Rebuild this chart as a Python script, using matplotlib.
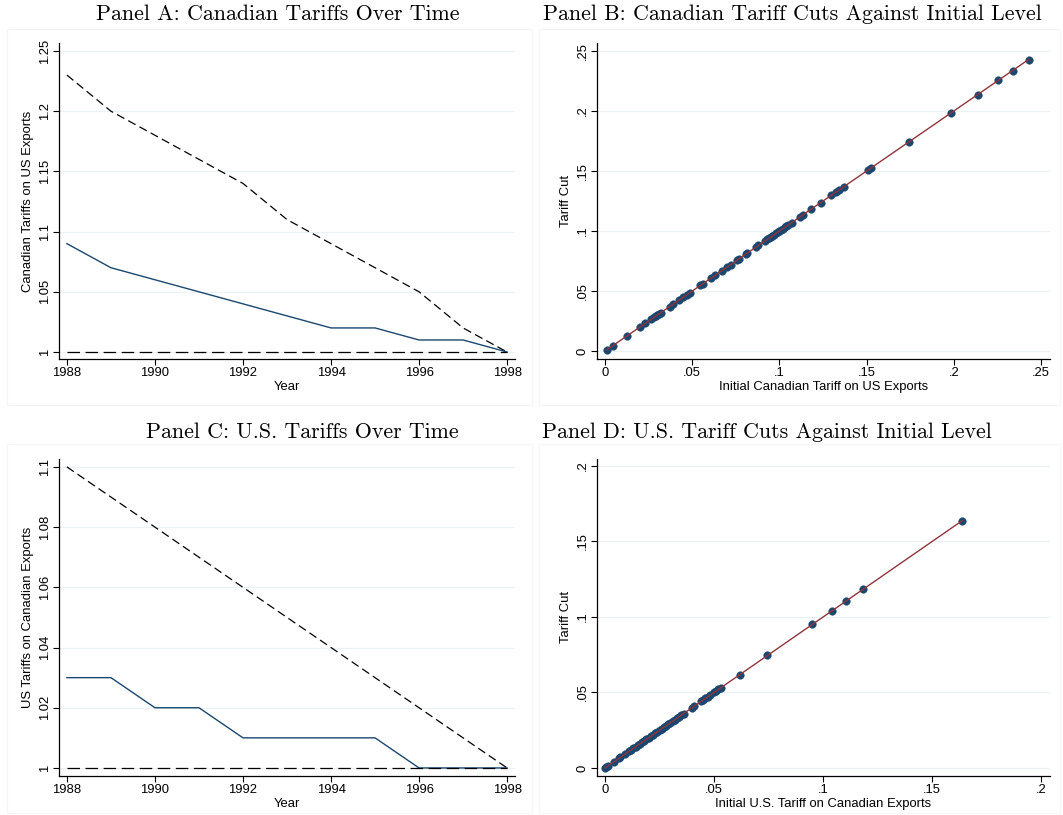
import numpy as np
import matplotlib
matplotlib.use("Agg")
import matplotlib.pyplot as plt
from matplotlib.patches import Rectangle

plt.rcParams['font.family'] = ['Liberation Sans', 'DejaVu Sans']
plt.rcParams['lines.scale_dashes'] = False

NAVY = '#1a476f'
MAROON = '#90353b'
GRID = '#eaf2f3'

# Panel A: Canadian tariffs over time
years = [1988, 1989, 1990, 1991, 1992, 1993, 1994, 1995, 1996, 1997, 1998]
can_max = [1.23, 1.20, 1.18, 1.16, 1.14, 1.11, 1.09, 1.07, 1.05, 1.02, 1.00]
can_mean = [1.09, 1.07, 1.06, 1.05, 1.04, 1.03, 1.02, 1.02, 1.01, 1.01, 1.00]
can_min = [1.00] * 11

# Panel C: U.S. tariffs over time
us_max = [1.10, 1.09, 1.08, 1.07, 1.06, 1.05, 1.04, 1.03, 1.02, 1.01, 1.00]
us_mean = [1.03, 1.03, 1.02, 1.02, 1.01, 1.01, 1.01, 1.01, 1.00, 1.00, 1.00]
us_min = [1.00] * 11

# Panel B: Canadian tariff cuts against initial level
can_init = [0.001, 0.0044, 0.0124, 0.020, 0.023, 0.0266, 0.028, 0.029, 0.030, 0.031,
            0.032, 0.037, 0.039, 0.0425, 0.045, 0.047, 0.0486, 0.0547, 0.056, 0.061,
            0.063, 0.067, 0.070, 0.072, 0.0757, 0.077, 0.0807, 0.0815, 0.0865, 0.088,
            0.092, 0.093, 0.094, 0.095, 0.096, 0.097, 0.098, 0.099, 0.100, 0.101,
            0.102, 0.103, 0.104, 0.105, 0.107, 0.112, 0.1136, 0.118, 0.1236, 0.1296,
            0.1327, 0.134, 0.137, 0.151, 0.1525, 0.1744, 0.1985, 0.2137, 0.2255,
            0.2337, 0.2431]
can_cut = [0.001, 0.0044, 0.0124, 0.020, 0.023, 0.0266, 0.028, 0.029, 0.030, 0.031,
           0.032, 0.037, 0.039, 0.0425, 0.045, 0.047, 0.0486, 0.0547, 0.056, 0.061,
           0.063, 0.067, 0.070, 0.072, 0.0757, 0.077, 0.0807, 0.0815, 0.0865, 0.088,
           0.092, 0.093, 0.094, 0.095, 0.096, 0.097, 0.098, 0.099, 0.100, 0.101,
           0.102, 0.103, 0.104, 0.105, 0.107, 0.112, 0.1136, 0.118, 0.1236, 0.1296,
           0.1327, 0.134, 0.137, 0.151, 0.1525, 0.1744, 0.1985, 0.2137, 0.2255,
           0.2337, 0.2428]

# Panel D: U.S. tariff cuts against initial level
us_init = [0.000, 0.0005, 0.0015, 0.004, 0.0065, 0.007, 0.009, 0.011, 0.012, 0.013,
           0.014, 0.015, 0.016, 0.017, 0.018, 0.019, 0.020, 0.021, 0.022, 0.023,
           0.024, 0.025, 0.026, 0.027, 0.028, 0.029, 0.030, 0.031, 0.032, 0.033,
           0.034, 0.035, 0.036, 0.040, 0.041, 0.044, 0.045, 0.046, 0.047, 0.048,
           0.050, 0.051, 0.052, 0.053, 0.0617, 0.0745, 0.095, 0.104, 0.1107,
           0.1183, 0.1639]
us_cut = [0.000, 0.0005, 0.0015, 0.004, 0.0065, 0.007, 0.009, 0.011, 0.012, 0.013,
          0.014, 0.015, 0.016, 0.017, 0.018, 0.019, 0.020, 0.021, 0.022, 0.023,
          0.024, 0.025, 0.026, 0.027, 0.028, 0.029, 0.030, 0.031, 0.032, 0.033,
          0.034, 0.035, 0.036, 0.040, 0.041, 0.044, 0.045, 0.046, 0.047, 0.048,
          0.050, 0.051, 0.052, 0.053, 0.0617, 0.0745, 0.095, 0.104, 0.1107,
          0.1183, 0.1636]

year_ticks = [1988, 1990, 1992, 1994, 1996, 1998]
a_yticks = [1.0, 1.05, 1.1, 1.15, 1.2, 1.25]
a_ylabels = ['1', '1.05', '1.1', '1.15', '1.2', '1.25']
c_yticks = [1.0, 1.02, 1.04, 1.06, 1.08, 1.1]
c_ylabels = ['1', '1.02', '1.04', '1.06', '1.08', '1.1']
b_ticks = [0, 0.05, 0.1, 0.15, 0.2, 0.25]
b_labels = ['0', '.05', '.1', '.15', '.2', '.25']
d_ticks = [0, 0.05, 0.1, 0.15, 0.2]
d_labels = ['0', '.05', '.1', '.15', '.2']

fig = plt.figure(figsize=(10.63, 8.15), dpi=100)

# very faint panel borders
for (x0, y0, w, h) in [(0.007, 0.503, 0.493, 0.462), (0.507, 0.503, 0.490, 0.462),
                       (0.007, 0.003, 0.493, 0.452), (0.507, 0.003, 0.490, 0.452)]:
    fig.patches.append(Rectangle((x0, y0), w, h, transform=fig.transFigure,
                                 fill=False, edgecolor='#f6f6f6', lw=0.8))

FS = 9.4


def style(ax, xticks, xlabels, yticks, ylabels, xlabel, ylabel):
    for s in ['top', 'right']:
        ax.spines[s].set_visible(False)
    for s in ['left', 'bottom']:
        ax.spines[s].set_linewidth(0.9)
    ax.set_xticks(xticks)
    ax.set_xticklabels(xlabels, fontsize=FS)
    ax.set_yticks(yticks)
    ax.set_yticklabels(ylabels, fontsize=FS, rotation=90, va='center')
    ax.tick_params(direction='out', length=4, width=0.8, pad=2)
    for y in yticks:
        ax.axhline(y, color=GRID, lw=0.9, zorder=0)
    ax.set_xlabel(xlabel, fontsize=FS, labelpad=1)
    ax.set_ylabel(ylabel, fontsize=FS, labelpad=3)


def time_panel(rect, vmax, vmean, vmin, yticks, ylabels, ylim, ylabel):
    ax = fig.add_axes(rect)
    ax.plot(years, vmax, color='black', lw=0.9, dashes=(6, 3.2))
    ax.plot(years, vmean, color=NAVY, lw=1.0)
    ax.plot(years, vmin, color='black', lw=0.9, dashes=(9, 4))
    ax.set_xlim(1987.82, 1998.18)
    ax.set_ylim(*ylim)
    style(ax, year_ticks, [str(t) for t in year_ticks], yticks, ylabels, 'Year', ylabel)
    return ax


def scatter_panel(rect, x, y, ticks, labels, xlim, ylim, xlabel):
    ax = fig.add_axes(rect)
    ax.scatter(x, y, s=30, color=NAVY, edgecolors=NAVY, linewidths=0.3, zorder=2)
    b, a = np.polyfit(x, y, 1)
    xs = np.array([min(x), max(x)])
    ax.plot(xs, a + b * xs, color=MAROON, lw=1.0, zorder=3)
    ax.set_xlim(*xlim)
    ax.set_ylim(*ylim)
    style(ax, ticks, labels, ticks, labels, xlabel, 'Tariff Cut')
    return ax


time_panel([0.0555, 0.5595, 0.429, 0.3877], can_max, can_mean, can_min,
           a_yticks, a_ylabels, (0.9942, 1.2566), 'Canadian Tariffs on US Exports')
scatter_panel([0.5616, 0.5595, 0.4262, 0.3877], can_init, can_cut, b_ticks, b_labels,
              (-0.0046, 0.2552), (-0.0066, 0.2566), 'Initial Canadian Tariff on US Exports')
time_panel([0.0555, 0.0479, 0.429, 0.389], us_max, us_mean, us_min,
           c_yticks, c_ylabels, (0.99734, 1.10266), 'US Tariffs on Canadian Exports')
scatter_panel([0.5616, 0.0479, 0.4262, 0.389], us_init, us_cut, d_ticks, d_labels,
              (-0.0037, 0.2041), (-0.0053, 0.2046), 'Initial U.S. Tariff on Canadian Exports')

W, H = 1063, 815
tkw = dict(fontfamily='cmr10', fontsize=15.8, ha='center', va='center')
fig.text(278 / W, 1 - 14 / H, 'Panel A: Canadian Tariffs Over Time', **tkw)
fig.text(792 / W, 1 - 14 / H, 'Panel B: Canadian Tariff Cuts Against Initial Level', **tkw)
fig.text(302 / W, 1 - 432 / H, 'Panel C: U.S. Tariffs Over Time', **tkw)
fig.text(767 / W, 1 - 432 / H, 'Panel D: U.S. Tariff Cuts Against Initial Level', **tkw)

fig.savefig('out.png', dpi=100, facecolor='white')
